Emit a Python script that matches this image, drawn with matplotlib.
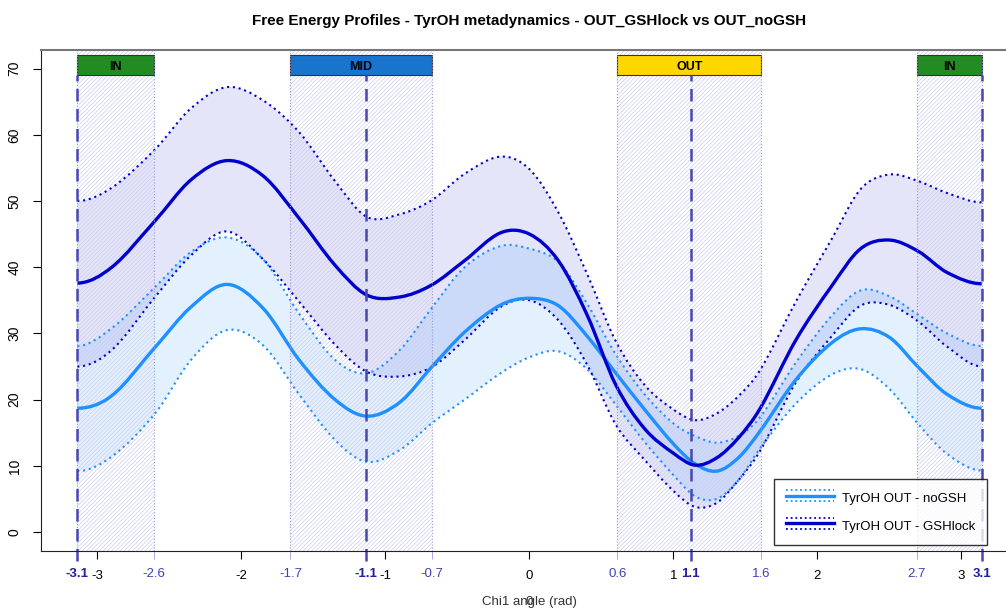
import numpy as np
import matplotlib
matplotlib.use("Agg")
import matplotlib.pyplot as plt
from matplotlib.lines import Line2D
from matplotlib.legend_handler import HandlerBase
from matplotlib.patches import Rectangle, PathPatch
from matplotlib.path import Path

plt.rcParams['font.family'] = ['Liberation Sans', 'DejaVu Sans']
plt.rcParams['hatch.linewidth'] = 0.5

# chi1 angle grid (rad)
chi = [-3.14, -2.9, -2.6, -2.35, -2.1, -1.85, -1.6, -1.35, -1.13, -0.9, -0.68, -0.45, -0.2, 0.0,
       0.2, 0.4, 0.6, 0.8, 1.0, 1.15, 1.3, 1.45, 1.6, 1.85, 2.1, 2.3, 2.5, 2.7, 2.9, 3.14]

# OUT - noGSH
nogsh_mean = [18.7, 20.6, 27.9, 34.0, 37.4, 33.8, 26.0, 20.0, 17.5, 19.6, 24.9, 30.2, 34.3, 35.3,
              34.2, 29.6, 24.0, 18.5, 13.3, 10.3, 9.2, 11.2, 15.2, 23.0, 28.6, 30.7, 29.4, 24.9, 20.8, 18.7]
nogsh_up = [28.1, 30.8, 37.0, 42.3, 44.5, 41.2, 33.0, 26.0, 24.0, 27.5, 33.8, 40.0, 43.2, 42.8,
            40.8, 34.5, 26.8, 20.8, 16.4, 14.5, 13.5, 14.5, 17.3, 25.6, 32.7, 36.5, 35.6, 32.8, 30.0, 28.1]
nogsh_lo = [9.2, 11.4, 17.9, 26.0, 30.5, 28.2, 20.8, 13.9, 10.6, 12.4, 16.4, 20.0, 24.0, 26.4,
            27.3, 24.6, 19.2, 13.6, 8.6, 5.4, 5.0, 7.8, 12.6, 19.4, 23.8, 24.6, 21.6, 16.3, 11.8, 9.3]

# OUT - GSHlock
gsh_mean = [37.6, 40.0, 47.0, 53.2, 56.1, 53.8, 47.4, 40.3, 35.8, 35.5, 37.3, 41.0, 45.2, 45.0,
            41.0, 32.8, 22.2, 15.6, 11.9, 10.1, 11.2, 14.2, 18.6, 29.0, 37.2, 42.8, 44.1, 42.4, 39.2, 37.5]
gsh_up = [50.0, 52.0, 57.8, 64.0, 67.2, 65.2, 60.4, 53.0, 47.6, 48.0, 50.1, 54.1, 56.7, 54.8,
          48.3, 39.0, 28.8, 22.2, 18.5, 16.9, 17.9, 20.5, 24.4, 34.8, 44.3, 51.8, 54.0, 53.0, 51.2, 49.8]
gsh_lo = [25.0, 27.5, 35.5, 41.8, 45.4, 41.2, 34.8, 28.3, 24.2, 23.5, 24.9, 29.0, 34.0, 35.0,
          32.0, 25.3, 16.2, 10.9, 6.2, 3.8, 4.4, 7.8, 12.2, 22.6, 29.6, 34.2, 34.3, 31.8, 28.0, 25.0]

# conformational regions: label, start, end, centre, colour
regions = [("IN", -np.pi, -2.61, -np.pi, "#228B22"),
           ("MID", -1.66, -0.68, -1.135, "#1874CD"),
           ("OUT", 0.61, 1.61, 1.12, "#FFD700"),
           ("IN", 2.69, np.pi, np.pi, "#228B22")]
edge_labels = ["-2.6", "-1.7", "-0.7", "0.6", "1.6", "2.7"]
centre_labels = ["-3.1", "-1.1", "1.1", "3.1"]

c_nogsh = "#1E90FF"
c_gsh = "#0000CD"


def bezier_verts(x, y):
    # cubic hermite segments (as bezier control points) through the read points
    x = np.asarray(x, float)
    y = np.asarray(y, float)
    m = np.zeros_like(y)
    m[1:-1] = (y[2:] - y[:-2]) / (x[2:] - x[:-2])
    verts = [(x[0], y[0])]
    for i in range(len(x) - 1):
        h = x[i + 1] - x[i]
        verts += [(x[i] + h / 3, y[i] + m[i] * h / 3),
                  (x[i + 1] - h / 3, y[i + 1] - m[i + 1] * h / 3),
                  (x[i + 1], y[i + 1])]
    return np.array(verts)


def smooth_line(ax, x, y, **kw):
    v = bezier_verts(x, y)
    codes = [Path.MOVETO] + [Path.CURVE4] * (len(v) - 1)
    ax.add_patch(PathPatch(Path(v, codes), fill=False, **kw))


def smooth_band(ax, x, lo, hi, **kw):
    up = bezier_verts(x, hi)
    dn = bezier_verts(x, lo)[::-1]
    v = np.vstack([up, dn, up[:1]])
    codes = ([Path.MOVETO] + [Path.CURVE4] * (len(up) - 1) +
             [Path.LINETO] + [Path.CURVE4] * (len(dn) - 1) + [Path.CLOSEPOLY])
    ax.add_patch(PathPatch(Path(v, codes), **kw))


fig = plt.figure(figsize=(10.06, 6.10), dpi=100)
ax = fig.add_axes([0.0408, 0.0974, 0.971, 0.8206])
ax.set_xlim(-np.pi - 0.25, np.pi + 0.25)
ax.set_ylim(-2.8, 72.8)

# uncertainty bands
smooth_band(ax, chi, gsh_lo, gsh_up, facecolor=c_gsh, alpha=0.10, lw=0)
smooth_band(ax, chi, nogsh_lo, nogsh_up, facecolor=c_nogsh, alpha=0.12, lw=0)

# hatched regions
for name, a, b, c, col in regions:
    ax.add_patch(Rectangle((a, -2.8), b - a, 75.6, facecolor="none",
                           edgecolor="#CCCCEE", hatch="////////", lw=0))
    ax.axvline(a, color="#9A9ADC", lw=0.8, ls=":")
    ax.axvline(b, color="#9A9ADC", lw=0.8, ls=":")

# curves
dots = (0, (1, 1.8))
smooth_line(ax, chi, nogsh_up, edgecolor=c_nogsh, lw=1.5, ls=dots)
smooth_line(ax, chi, nogsh_lo, edgecolor=c_nogsh, lw=1.5, ls=dots)
smooth_line(ax, chi, gsh_up, edgecolor=c_gsh, lw=1.5, ls=dots)
smooth_line(ax, chi, gsh_lo, edgecolor=c_gsh, lw=1.5, ls=dots)
smooth_line(ax, chi, nogsh_mean, edgecolor=c_nogsh, lw=2.4)
smooth_line(ax, chi, gsh_mean, edgecolor=c_gsh, lw=2.4)

# region boxes and centre lines
for name, a, b, c, col in regions:
    ax.add_patch(Rectangle((a, 69.0), b - a, 3.1, facecolor=col, edgecolor="#333333", lw=0.8))
    ax.text((a + b) / 2, 70.45, name, ha="center", va="center_baseline", fontsize=9, fontweight="bold")
    ax.plot([c, c], [-4.3, 69.0], color="#4646B4", lw=1.8, ls=(0, (5, 3)), clip_on=False)

# axes styling
for s in ["left", "bottom"]:
    ax.spines[s].set_color("#222222")
ax.spines["top"].set_color("#777777")
ax.spines["top"].set_linewidth(1.5)

ax.set_yticks(range(0, 71, 10))
ax.set_yticklabels([str(v) for v in range(0, 71, 10)], rotation=90, va="center", fontsize=10)
ax.tick_params(axis="y", length=6, pad=8)

std_ticks = [-3, -2, -1, 0, 1, 2, 3]
edge_pos = [regions[0][2], regions[1][1], regions[1][2], regions[2][1], regions[2][2], regions[3][1]]
centre_pos = [r[3] for r in regions]
ax.set_xticks(std_ticks)
ax.set_xticklabels([str(v) for v in std_ticks], fontsize=9.5)
ax.tick_params(axis="x", length=6, pad=8)
ax.set_xticks(edge_pos + centre_pos, minor=True)
ax.tick_params(axis="x", which="minor", length=6, color="#9A9ADC")
for p, lab in zip(edge_pos, edge_labels):
    ax.text(p, -6.4, lab, ha="center", va="center", fontsize=9.5, color="#4040B0")
for p, lab in zip(centre_pos, centre_labels):
    ax.text(p, -6.4, lab, ha="center", va="center", fontsize=9.5, color="#2020A0", fontweight="bold")

ax.set_title("Free Energy Profiles - TyrOH metadynamics - OUT_GSHlock vs OUT_noGSH",
             fontsize=11, fontweight="bold", pad=18)
fig.text(0.5265, 0.003, "Chi1 angle (rad)", ha="center", va="bottom", fontsize=9.5, color="#333333")
fig.text(0.5265, 0.003, "0", ha="center", va="bottom", fontsize=9.5, color="#333333")


class BandHandler(HandlerBase):
    def create_artists(self, legend, orig_handle, xd, yd, width, height, fontsize, trans):
        col = orig_handle.get_color()
        arts = []
        for dy, lw, ls in [(height * 0.9, 1.3, (0, (1, 1.6))), (height * 0.5, 2.4, "-"),
                           (height * 0.1, 1.3, (0, (1, 1.6)))]:
            ln = Line2D([0, width], [dy, dy], color=col, lw=lw, ls=ls)
            ln.set_transform(trans)
            arts.append(ln)
        return arts


h1 = Line2D([], [], color=c_nogsh)
h2 = Line2D([], [], color=c_gsh)
leg = fig.legend([h1, h2], ["TyrOH OUT - noGSH", "TyrOH OUT - GSHlock"],
                 handler_map={Line2D: BandHandler()}, loc="upper right",
                 bbox_to_anchor=(0.988, 0.226), fontsize=9.5, frameon=True, fancybox=False,
                 edgecolor="black", handlelength=3.6, handleheight=1.2, labelspacing=1.0,
                 borderpad=0.95, handletextpad=0.6)
leg.get_frame().set_linewidth(1.0)

fig.savefig("out.png", dpi=100)
